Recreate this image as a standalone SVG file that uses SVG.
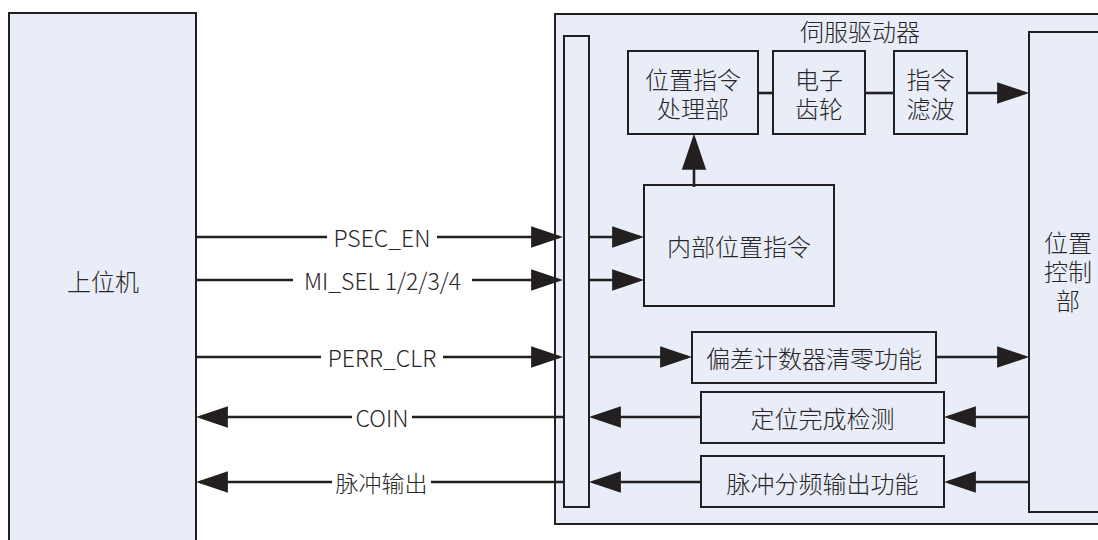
<svg xmlns="http://www.w3.org/2000/svg" width="1098" height="540" viewBox="0 0 1098 540">
<style>
.box{fill:#e8edf7;stroke:#231f20;stroke-width:2}
.ln{fill:none;stroke:#231f20;stroke-width:2.6}
.t{font-family:"Noto Sans CJK SC","Noto Sans",sans-serif;font-size:24px;font-weight:300;fill:#2a2627;text-anchor:middle;dominant-baseline:central}
.l{font-family:"Noto Sans CJK SC","Noto Sans",sans-serif;font-size:23px;font-weight:300;fill:#2a2627;text-anchor:middle;dominant-baseline:central}
</style>
<defs>
<marker id="a" markerUnits="userSpaceOnUse" markerWidth="32" markerHeight="24" refX="27" refY="10.5" orient="auto" viewBox="0 0 31 21">
<path d="M0,0 L31,10.5 L0,21 Z" fill="#231f20"/>
</marker>
<marker id="ab" markerUnits="userSpaceOnUse" markerWidth="36" markerHeight="26" refX="30" refY="11.5" orient="auto" viewBox="0 0 34 23">
<path d="M0,0 L34,11.5 L0,23 Z" fill="#231f20"/>
</marker>
</defs>
<rect width="1098" height="540" fill="#ffffff"/>
<g id="host">
<rect class="box" x="9" y="13" width="187" height="540"/>
<text class="t" x="103" y="280">上位机</text>
</g>
<g id="servo">
<rect class="box" x="555" y="14" width="560" height="510"/>
<text class="t" x="860" y="30">伺服驱动器</text>
</g>
<g id="bus">
<rect class="box" x="564" y="36" width="25" height="471"/>
</g>
<g id="cmdproc">
<rect class="box" x="628" y="51" width="130" height="83"/>
<text class="t" x="693" y="78">位置指令<tspan x="693" dy="29">处理部</tspan></text>
</g>
<g id="gear">
<rect class="box" x="773" y="51" width="92" height="83"/>
<text class="t" x="819" y="78">电子<tspan x="819" dy="29">齿轮</tspan></text>
</g>
<g id="filter">
<rect class="box" x="894" y="51" width="73" height="83"/>
<text class="t" x="930.5" y="78">指令<tspan x="930.5" dy="29">滤波</tspan></text>
</g>
<g id="poscmd">
<rect class="box" x="644" y="185" width="190" height="121"/>
<text class="t" x="739" y="245">内部位置指令</text>
</g>
<g id="posctrl">
<rect class="box" x="1029" y="32" width="90" height="480"/>
<text class="t" x="1068" y="241">位置<tspan x="1068" dy="29">控制</tspan><tspan x="1068" dy="29">部</tspan></text>
</g>
<g id="clear">
<rect class="box" x="692" y="332" width="244" height="51"/>
<text class="t" x="814" y="357">偏差计数器清零功能</text>
</g>
<g id="coin">
<rect class="box" x="701" y="392" width="243" height="51"/>
<text class="t" x="822.5" y="417">定位完成检测</text>
</g>
<g id="pulse">
<rect class="box" x="701" y="456" width="243" height="51"/>
<text class="t" x="822.5" y="482">脉冲分频输出功能</text>
</g>
<g id="connectors">
<line class="ln" x1="196" y1="237" x2="327" y2="237"/>
<line class="ln" x1="437" y1="237" x2="559" y2="237" marker-end="url(#a)"/>
<text class="l" x="382" y="237">PSEC_EN</text>
<line class="ln" x1="196" y1="280" x2="293" y2="280"/>
<line class="ln" x1="472" y1="280" x2="559" y2="280" marker-end="url(#a)"/>
<text class="l" x="382.5" y="280">MI_SEL 1/2/3/4</text>
<line class="ln" x1="196" y1="357" x2="321" y2="357"/>
<line class="ln" x1="443" y1="357" x2="559" y2="357" marker-end="url(#a)"/>
<text class="l" x="382" y="357">PERR_CLR</text>
<line class="ln" x1="564" y1="417" x2="412" y2="417"/>
<line class="ln" x1="352" y1="417" x2="200" y2="417" marker-end="url(#a)"/>
<text class="l" x="382" y="417">COIN</text>
<line class="ln" x1="564" y1="482" x2="431" y2="482"/>
<line class="ln" x1="332" y1="482" x2="200" y2="482" marker-end="url(#a)"/>
<text class="l" x="381.5" y="482">脉冲输出</text>
<line class="ln" x1="589" y1="237" x2="640" y2="237" marker-end="url(#a)"/>
<line class="ln" x1="589" y1="280" x2="640" y2="280" marker-end="url(#a)"/>
<line class="ln" x1="589" y1="357" x2="688" y2="357" marker-end="url(#a)"/>
<line class="ln" x1="936" y1="357" x2="1025" y2="357" marker-end="url(#a)"/>
<line class="ln" x1="1029" y1="417" x2="948" y2="417" marker-end="url(#a)"/>
<line class="ln" x1="701" y1="417" x2="593" y2="417" marker-end="url(#a)"/>
<line class="ln" x1="1029" y1="482" x2="948" y2="482" marker-end="url(#a)"/>
<line class="ln" x1="701" y1="482" x2="593" y2="482" marker-end="url(#a)"/>
<line class="ln" x1="694" y1="187" x2="694" y2="138" stroke-width="3.4" marker-end="url(#ab)"/>
<line class="ln" x1="758" y1="93" x2="773" y2="93"/>
<line class="ln" x1="865" y1="93" x2="894" y2="93"/>
<line class="ln" x1="967" y1="93" x2="1025" y2="93" marker-end="url(#a)"/>
</g>
</svg>
